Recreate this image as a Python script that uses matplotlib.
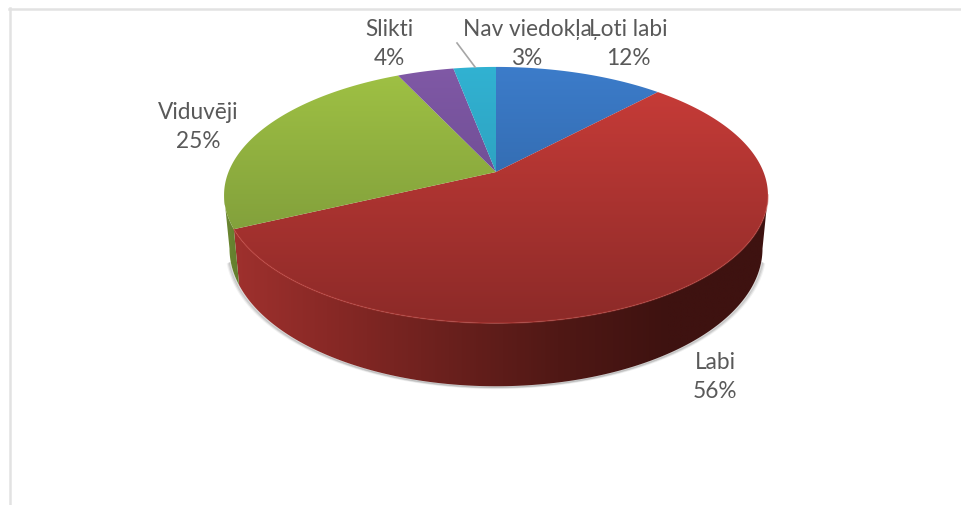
import numpy as np
import matplotlib
matplotlib.use("Agg")
import matplotlib.pyplot as plt
from matplotlib.colors import LinearSegmentedColormap
from matplotlib.patches import Polygon

plt.rcParams['font.family'] = ['Lato', 'DejaVu Sans']

# Data
labels = ["Ļoti labi", "Labi", "Viduvēji", "Slikti", "Nav viedokļa"]
values = [12, 56, 25, 4, 3]

# Colours: top gradient (back -> front) and wall gradient (left -> right)
top_light = ["#3c7cca", "#cc3d39", "#a0c244", "#8059a6", "#31b2d2"]
top_dark = ["#2a5a94", "#8c2a28", "#728e37", "#5c4180", "#2a8eaa"]
wall_stops = [["#2a5a94", "#1c3c64"],
              ["#a0312e", "#862825", "#6a201d", "#501815", "#3e1210", "#3e1210"],
              ["#6f8c33", "#60792c"],
              ["#5c4180", "#44305f"],
              ["#2a8eaa", "#1f6a80"]]

# Label centres in pixels
label_pos = [(628, 44), (715, 377), (198, 127), (389, 44), (527, 44)]

# Pie geometry in pixels, with a small perspective
cx, cy = 496, 172
radius = 267.5
height = 124
persp = 0.18
depth = 51.7
shrink = 0.98


def project(theta):
    x = np.sin(theta)
    y = -np.cos(theta)
    w = 1 / (1 - persp * y)
    return x * w, y * w, w


def top_edge(theta):
    x, y, w = project(theta)
    return cx + radius * x, cy + height * y


def bottom_edge(theta):
    x, y, w = project(theta)
    return cx + shrink * radius * x, cy + height * y + depth * w


def gradient(ax, stops, verts, extent, horizontal=False):
    cmap = LinearSegmentedColormap.from_list("g", stops)
    ramp = np.linspace(0, 1, 256)
    ramp = ramp[None, :] if horizontal else ramp[:, None]
    im = ax.imshow(ramp, cmap=cmap, extent=extent, origin="upper",
                   aspect="auto", interpolation="bilinear", zorder=3)
    patch = Polygon(verts, closed=True, transform=ax.transData)
    im.set_clip_path(patch)


fig = plt.figure(figsize=(9.61, 5.05), dpi=100)
ax = fig.add_axes([0, 0, 1, 1])

# Frame of the chart area (only top and left are in the crop)
ax.plot([9, 961], [8.5, 8.5], color="#e2e2e2", lw=1.8, zorder=1)
ax.plot([9.5, 9.5], [8, 505], color="#e2e2e2", lw=1.8, zorder=1)

edges = np.cumsum([0] + values) / sum(values) * 2 * np.pi
sil_r = np.arccos(-persp)
sil_l = 2 * np.pi - sil_r

# Soft shadow under the walls
t = np.linspace(sil_r + 0.1, sil_l - 0.1, 300)
bx, by = bottom_edge(t)
for off, alpha in zip([3, 2, 1], [0.08, 0.14, 0.22]):
    ax.plot(bx + (bx - cx) / radius * off, by + off * 0.6,
            color="#555555", alpha=alpha, lw=1.5, zorder=2)

# Walls
xl, xr = cx - radius * 1.02, cx + radius * 1.02
for i in range(len(values)):
    a = max(edges[i], sil_r)
    b = min(edges[i + 1], sil_l)
    if b <= a:
        continue
    t = np.linspace(a, b, 200)
    tx, ty = top_edge(t)
    bx, by = bottom_edge(t)
    verts = np.column_stack([np.r_[tx, bx[::-1]], np.r_[ty, by[::-1]]])
    gradient(ax, wall_stops[i], verts, (bx.min() - 10, tx.max() + 10, 400, 100), horizontal=True)

# Top faces
ymin = cy - height / (1 + persp)
ymax = cy + height / (1 - persp)
for i in range(len(values)):
    t = np.linspace(edges[i], edges[i + 1], 200)
    tx, ty = top_edge(t)
    verts = np.column_stack([np.r_[cx, tx], np.r_[cy, ty]])
    gradient(ax, [top_light[i], top_dark[i]], verts, (xl, xr, ymax, ymin))

# Lighter bevel along the front rim of the red slice
t = np.linspace(sil_r, edges[2], 200)
tx, ty = top_edge(t)
ax.plot(tx, ty, color="#c8453f", lw=1.2, alpha=0.4, zorder=4)

# Leader line for Nav viedokļa
ax.plot([457, 475], [43, 67], color="#a6a6a6", lw=1.2, zorder=4)

# Labels
for name, val, (lx, ly) in zip(labels, values, label_pos):
    ax.text(lx, ly, f"{name}\n{val}%", ha="center", va="center", fontsize=16.3,
            color="#595959", linespacing=1.45, zorder=5)

ax.set_xlim(0, 961)
ax.set_ylim(505, 0)
ax.axis("off")

fig.savefig("out.png", dpi=100)
